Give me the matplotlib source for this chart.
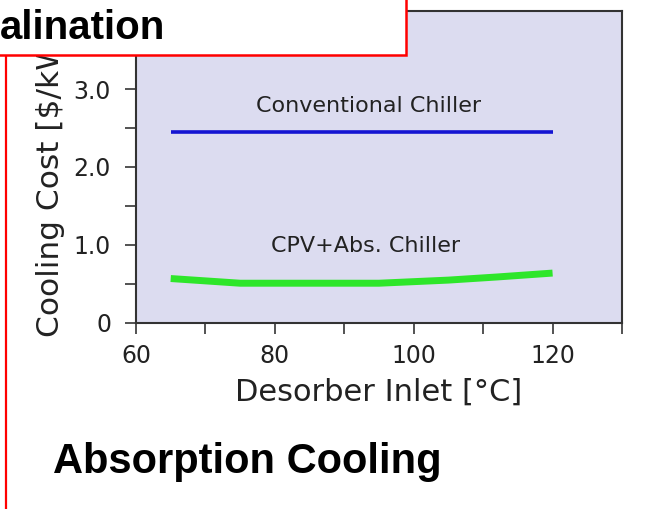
import numpy as np
import matplotlib
matplotlib.use("Agg")
import matplotlib.pyplot as plt
from matplotlib.patches import Rectangle
from matplotlib.lines import Line2D

# desorber inlet temperature [C]
conv_x = [65, 120]
conv_y = [2.45, 2.45]

cpv_x = [65, 70, 75, 85, 95, 105, 112, 120]
cpv_y = [0.57, 0.54, 0.51, 0.51, 0.51, 0.55, 0.59, 0.64]

xticks = [60, 80, 100, 120]
xminor = [70, 90, 110, 130]
yticks = [0, 1, 2, 3]
ylabels = ["0", "1.0", "2.0", "3.0"]
yminor = [0.5, 1.5, 2.5, 3.5]

W, H = 652, 509
fig = plt.figure(figsize=(W / 100, H / 100), dpi=100)
fig.patch.set_facecolor("white")

ax = fig.add_axes([136 / W, 1 - 323 / H, (622 - 136) / W, (323 - 11) / H])
ax.set_facecolor("#dcdcf0")

ax.plot(conv_x, conv_y, color="#1414d2", lw=2.6, solid_capstyle="butt")
ax.plot(cpv_x, cpv_y, color="#2ee62a", lw=5, solid_capstyle="butt")

ax.text(93.5, 2.78, "Conventional Chiller", ha="center", va="center",
        fontsize=16, color="#222222")
ax.text(93, 0.99, "CPV+Abs. Chiller", ha="center", va="center",
        fontsize=16, color="#222222")

ax.set_xlim(60, 130)
ax.set_ylim(0, 4)
ax.set_xticks(xticks)
ax.set_xticks(xminor, minor=True)
ax.set_yticks(yticks)
ax.set_yticklabels(ylabels)
ax.set_yticks(yminor, minor=True)
ax.tick_params(which="both", direction="out", length=8, width=1.3,
               color="#444444", labelsize=17, labelcolor="#222222")
ax.tick_params(axis="y", pad=10)
ax.tick_params(axis="x", pad=7)
for s in ax.spines.values():
    s.set_color("#333333")
    s.set_linewidth(1.5)

ax.set_xlabel("Desorber Inlet [°C]", fontsize=22, color="#222222", labelpad=7)
ax.set_ylabel("Cooling Cost [$/kWh]", fontsize=22.5, color="#222222")
ax.yaxis.set_label_coords((65 - 136) / 486, (323 - 172) / 312)

# slide decorations
fig.lines.append(Line2D([6 / W, 6 / W], [0, 1 - 55 / H], transform=fig.transFigure,
                        color="red", lw=1.6, zorder=4))
fig.patches.append(Rectangle((-0.02, 1 - 55 / H), 406 / W + 0.02, 0.2,
                             transform=fig.transFigure, facecolor="white",
                             edgecolor="red", lw=1.8, zorder=5))
fig.text(0, 1 - 39 / H, "alination", ha="left", va="baseline", fontsize=29,
         fontweight="bold", family="Liberation Sans", zorder=6)
fig.text(53 / W, 1 - 473 / H, "Absorption Cooling", ha="left", va="baseline",
         fontsize=30, fontweight="bold", family="Liberation Sans", zorder=6)

fig.savefig("out.png", dpi=100)
